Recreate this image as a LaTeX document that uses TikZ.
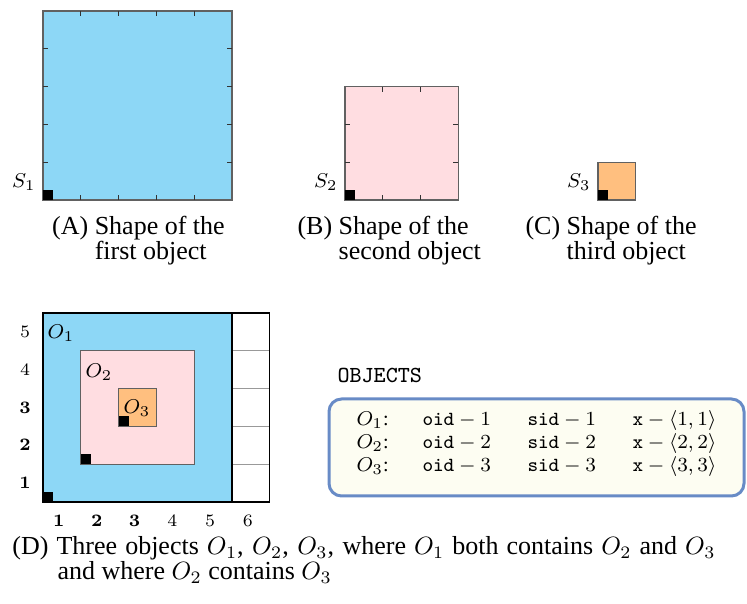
\documentclass[tikz,border=0pt]{standalone}
\usepackage{amsmath,amssymb}
\usepackage[no-math]{fontspec}
\setmainfont{Liberation Serif}
\usepackage{xcolor}
\definecolor{shapeblue}{RGB}{141,215,246}
\definecolor{shapepink}{RGB}{255,221,225}
\definecolor{shapeorange}{RGB}{255,191,127}
\definecolor{boxblue}{RGB}{104,139,198}
\definecolor{boxfill}{RGB}{253,253,242}

\begin{document}
\begin{tikzpicture}[x=0.4pt,y=0.4pt,
  shapeline/.style={draw=black!62,line width=0.5pt},
  tickmark/.style={black!80,line width=0.5pt},
  gridline/.style={black!40,line width=0.4pt},
  captext/.style={font=\fontsize{10.4}{10}\selectfont,align=left,inner sep=0pt,anchor=base west},
  lab/.style={font=\fontsize{8}{9}\selectfont,inner sep=0pt},
  gridnum/.style={font=\fontsize{7}{8}\selectfont,inner sep=0pt},
  tabcell/.style={font=\fontsize{8}{9}\selectfont,inner sep=0pt,anchor=base west}]
  \useasboundingbox (0,0) rectangle (747,604);
  \foreach \x/\n/\col/\i in {43/5/shapeblue/1,345/3/shapepink/2,598/1/shapeorange/3} {
    \filldraw[shapeline,fill=\col] (\x,404) rectangle ++(\n*37.8,\n*37.8);
    \fill (\x,404) rectangle ++(10,10);
    \node[lab,anchor=east] (s\i) at (\x-7,422) {$S_\i$};
  }
  \foreach \x/\n in {43/5,345/3} \foreach \k in {1,...,4} {
    \ifnum\k<\n
      \draw[tickmark] (\x+\k*37.8,404) -- ++(0,5);
      \draw[tickmark] (\x+\k*37.8,404+\n*37.8) -- ++(0,-5);
      \draw[tickmark] (\x,404+\k*37.8) -- ++(5,0);
      \draw[tickmark] (\x+\n*37.8,404+\k*37.8) -- ++(-5,0);
    \fi
  }
  \node[captext] (capa) at (51.7,344) {(A) Shape of the\\\hphantom{(A) }first object};
  \node[captext] (capb) at (297,344) {(B) Shape of the\\\hphantom{(B) }second object};
  \node[captext] (capc) at (525,344) {(C) Shape of the\\\hphantom{(C) }third object};

  \fill[shapeblue] (43,102) rectangle ++(189,189);
  \foreach \k in {1,...,4} \draw[gridline] (232,102+\k*37.8) -- (269.8,102+\k*37.8);
  \filldraw[shapeline,fill=shapepink] (80.8,139.8) rectangle (194.2,253.2);
  \filldraw[shapeline,fill=shapeorange] (118.6,177.6) rectangle (156.4,215.4);
  \foreach \p in {(43,102),(80.8,139.8),(118.6,177.6)} \fill \p rectangle ++(10,10);
  \draw[black,line width=0.55pt] (43,102) rectangle (269.8,291) (232,102) -- (232,291);
  \node[lab] (o1) at (61,271) {$O_1$};
  \node[lab] (o2) at (99,232) {$O_2$};
  \node[lab] (o3) at (137,196) {$O_3$};
  \foreach \r/\t in {1/\mathbf{1},2/\mathbf{2},3/\mathbf{3},4/4,5/5}
    \node[gridnum] (row\r) at (25,102+\r*37.8-18.9) {$\t$};
  \foreach \c/\t in {1/\mathbf{1},2/\mathbf{2},3/\mathbf{3},4/4,5/5,6/6}
    \node[gridnum] (col\c) at (43+\c*37.8-21.9,83) {$\t$};

  \node[font=\ttfamily\fontsize{9.2}{10}\selectfont,anchor=base west,inner sep=0pt] (objects) at (337,221) {OBJECTS};
  \draw[boxblue,line width=1.2pt,fill=boxfill,rounded corners=5pt] (329,108) rectangle (744,205);
  \foreach \i in {1,2,3} {
    \node[tabcell] (name\i) at (356,201-23*\i) {$O_\i$:};
    \node[tabcell] (oid\i) at (422,201-23*\i) {$\texttt{oid}-\i$};
    \node[tabcell] (sid\i) at (527,201-23*\i) {$\texttt{sid}-\i$};
    \node[tabcell] (pos\i) at (632,201-23*\i) {$\texttt{x}-\langle\i,\i\rangle$};
  }

  \node[captext] (capd) at (12,49) {\makebox[281.2pt][s]{(D) Three objects $O_1$, $O_2$, $O_3$, where $O_1$ both contains $O_2$ and $O_3$}};
  \node[captext] (capd2) at (57,24) {and where $O_2$ contains $O_3$};
\end{tikzpicture}
\end{document}
